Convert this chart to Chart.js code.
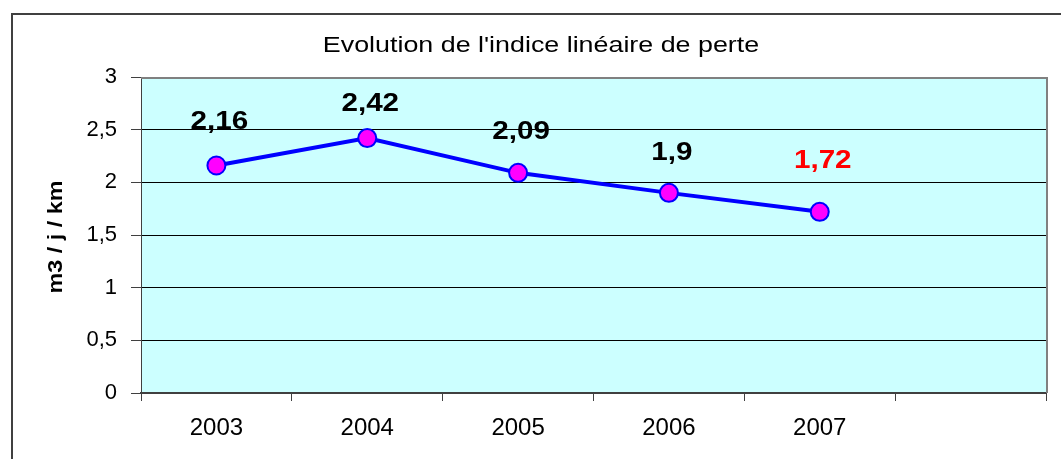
<!DOCTYPE html>
<html>
<head>
<meta charset="utf-8">
<script src="https://cdn.jsdelivr.net/npm/chart.js@4.4.0/dist/chart.umd.min.js"></script>
<style>
  html, body { margin: 0; padding: 0; background: #fff; }
  #wrap { position: relative; width: 1061px; height: 459px; }
  #frame { position: absolute; left: 11px; top: 13px; right: -4px; bottom: -4px;
           border-left: 2px solid #404040; border-top: 2px solid #404040; }
  canvas { position: absolute; left: 0; top: 0; }
</style>
</head>
<body>
<div id="wrap">
  <div id="frame"></div>
  <canvas id="c" width="1061" height="459"></canvas>
</div>
<script>
// years on the category axis (last slot is left empty, as in the original)
const years = ['2003', '2004', '2005', '2006', '2007', ''];
// indice linéaire de perte, m3 / j / km
const indice = [2.16, 2.42, 2.09, 1.9, 1.72, null];
const labelColors = ['#000', '#000', '#000', '#000', '#FF0000'];
const chartTitle = "Evolution de l'indice linéaire de perte";
const yTitle = 'm3 / j / km';

const FONT = '"Liberation Sans", Arial, sans-serif';
const frNum = v => String(v).replace('.', ',');

// the original text is a bit wider than Arial, so stretch it horizontally
function wideText(ctx, txt, x, y, sx) {
  ctx.save();
  ctx.translate(x, y);
  ctx.scale(sx, 1);
  ctx.fillText(txt, 0, 0);
  ctx.restore();
}

// plot background + frame, title, y title, value labels
const decor = {
  id: 'decor',
  beforeDraw(chart) {
    const { ctx, chartArea: a } = chart;
    ctx.save();
    ctx.fillStyle = '#CCFFFF';
    ctx.fillRect(a.left, a.top, a.right - a.left, a.bottom - a.top);
    ctx.restore();
  },
  beforeDatasetsDraw(chart) {
    const { ctx, chartArea: a } = chart;
    ctx.save();
    ctx.strokeStyle = '#808080';
    ctx.lineWidth = 2;
    ctx.beginPath();
    ctx.moveTo(a.left, a.top + 1);
    ctx.lineTo(a.right + 1, a.top + 1);
    ctx.lineTo(a.right + 1, a.bottom);
    ctx.stroke();
    ctx.restore();
  },
  afterDraw(chart, args, opts) {
    const { ctx } = chart;
    ctx.save();
    ctx.fillStyle = '#000';
    ctx.textAlign = 'center';
    ctx.textBaseline = 'middle';
    ctx.font = '22px ' + FONT;
    wideText(ctx, chartTitle, 541, 46, 1.22);

    ctx.save();
    ctx.translate(56, 237);
    ctx.rotate(-Math.PI / 2);
    ctx.font = 'bold 20px ' + FONT;
    wideText(ctx, yTitle, 0, 0, 1.17);
    ctx.restore();

    const meta = chart.getDatasetMeta(0);
    ctx.font = 'bold 26px ' + FONT;
    meta.data.forEach((pt, i) => {
      const v = indice[i];
      if (v == null) return;
      ctx.fillStyle = labelColors[i];
      wideText(ctx, frNum(v), pt.x + 3, pt.y - opts.lift[i], 1.14);
    });
    ctx.restore();
  }
};

new Chart(document.getElementById('c'), {
  type: 'line',
  data: {
    labels: years,
    datasets: [{
      data: indice,
      borderColor: '#0000FF',
      borderWidth: 4,
      pointRadius: 9,
      pointHoverRadius: 9,
      pointBackgroundColor: '#FF00FF',
      pointBorderColor: '#0000FF',
      pointBorderWidth: 2,
      tension: 0
    }]
  },
  options: {
    responsive: false,
    animation: false,
    devicePixelRatio: 1,
    layout: { padding: { top: 77, right: 15, left: 0, bottom: 0 } },
    plugins: {
      legend: { display: false },
      tooltip: { enabled: false },
      decor: { lift: [44, 34, 41, 40, 51] }
    },
    scales: {
      x: {
        offset: true,
        afterFit(s) { s.height = 66; },
        grid: { offset: true, drawOnChartArea: false, drawTicks: true, tickLength: 8, color: '#404040', lineWidth: 1 },
        border: { color: '#404040', width: 2 },
        ticks: { color: '#000', padding: 13, font: { family: FONT, size: 24 } }
      },
      y: {
        min: 0,
        max: 3,
        afterFit(s) { s.width = 141; },
        grid: { color: '#000', lineWidth: 1, drawTicks: true, tickLength: 10, tickColor: '#404040' },
        border: { color: '#404040', width: 1 },
        ticks: {
          stepSize: 0.5,
          padding: 14,
          color: '#000',
          font: { family: FONT, size: 22 },
          callback: v => frNum(v)
        }
      }
    }
  },
  plugins: [decor]
});
</script>
</body>
</html>
